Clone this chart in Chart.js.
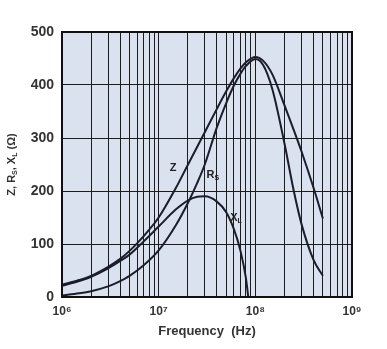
<!DOCTYPE html>
<html lang="en">
<head>
    <meta charset="UTF-8">
    <title>Impedance vs Frequency</title>
    <script src="https://cdn.jsdelivr.net/npm/chart.js"></script>
    <style>
        body {
            margin: 0;
            background: #ffffff;
        }
        #chart {
            display: block;
        }
    </style>
</head>
<body>
    <canvas id="chart" width="387" height="349"></canvas>

    <script>
        // Frequency points (Hz) shared by Z and Rs
        const freqs = [1e6, 1.5e6, 2e6, 3e6, 4e6, 5e6, 7e6, 1e7, 1.5e7, 2e7, 2.5e7, 3e7, 4e7, 5e7,
                       6e7, 7e7, 8e7, 1e8, 1.2e8, 1.5e8, 2e8, 2.5e8, 3e8, 4e8, 5e8];
        const zValues  = [23, 32, 40, 57, 72, 87, 115, 150, 205, 249, 283, 311, 355, 388,
                          413, 431, 443, 453, 446, 420, 362, 315, 275, 206, 148];
        const rsValues = [3, 7, 11, 20, 30, 40, 60, 88, 135, 177, 215, 250, 320, 366,
                          399, 421, 436, 449, 438, 392, 290, 200, 138, 70, 40];

        // Reactance goes through zero just under 100 MHz
        const xlFreqs  = [1e6, 1.5e6, 2e6, 3e6, 4e6, 5e6, 7e6, 1e7, 1.5e7, 2e7, 2.5e7, 3e7, 4e7, 5e7,
                          6e7, 7e7, 8e7, 8.45e7];
        const xlValues = [21, 30, 38, 54, 68, 80, 105, 133, 165, 182, 189, 190, 180, 160,
                          128, 88, 35, 0];

        // grid lines: 1..9 per decade, labels on the decades
        const gridFreqs = [];
        for (let e = 6; e < 9; e++) {
            for (let m = 1; m < 10; m++) gridFreqs.push(m * Math.pow(10, e));
        }
        gridFreqs.push(1e9);
        const decadeLabels = { 6: '10\u2076', 7: '10\u2077', 8: '10\u2078', 9: '10\u2079' };
        const yTicks = [0, 100, 200, 300, 400, 500];

        const lineColor = '#1b1d2b';
        const textColor = '#333333';
        const fontFamily = '"Liberation Sans", Arial, sans-serif';

        function toPoints(xs, ys) {
            return xs.map((x, i) => ({ x: x, y: ys[i] }));
        }

        // text with subscript parts: [text, isSub]
        function drawSubText(ctx, parts, x, y, size) {
            const subSize = Math.round(size * 0.65);
            let total = 0;
            parts.forEach(p => {
                ctx.font = `bold ${p[1] ? subSize : size}px ${fontFamily}`;
                total += ctx.measureText(p[0]).width;
            });
            let cx = x - total / 2;
            parts.forEach(p => {
                ctx.font = `bold ${p[1] ? subSize : size}px ${fontFamily}`;
                ctx.fillText(p[0], cx, p[1] ? y + size * 0.3 : y);
                cx += ctx.measureText(p[0]).width;
            });
        }

        const curveLabels = [
            { f: 1.41e7, v: 243, parts: [['Z', false]] },
            { f: 3.64e7, v: 230, parts: [['R', false], ['S', true]] },
            { f: 6.3e7, v: 149, parts: [['X', false], ['L', true]] }
        ];

        const plotDecor = {
            id: 'plotDecor',
            beforeDraw(chart) {
                const { ctx, chartArea: a } = chart;
                ctx.save();
                ctx.fillStyle = '#dbe2ef';
                ctx.fillRect(a.left, a.top, a.right - a.left, a.bottom - a.top);
                ctx.restore();
            },
            afterDraw(chart) {
                const { ctx, chartArea: a, scales } = chart;
                ctx.save();
                ctx.strokeStyle = '#111111';
                ctx.lineWidth = 2;
                ctx.strokeRect(a.left, a.top, a.right - a.left, a.bottom - a.top);

                ctx.fillStyle = '#222222';
                ctx.textBaseline = 'middle';
                curveLabels.forEach(l => {
                    drawSubText(ctx, l.parts, scales.x.getPixelForValue(l.f), scales.y.getPixelForValue(l.v), 11);
                });

                // y axis title
                ctx.translate(12, (a.top + a.bottom) / 2);
                ctx.rotate(-Math.PI / 2);
                ctx.fillStyle = textColor;
                drawSubText(ctx, [['Z, R', false], ['S', true], [', X', false], ['L', true], [' (\u03A9)', false]], 0, 0, 11);
                ctx.restore();
            }
        };

        const seriesStyle = {
            borderColor: lineColor,
            borderWidth: 2,
            pointRadius: 0,
            fill: false,
            cubicInterpolationMode: 'monotone'
        };

        new Chart(document.getElementById('chart'), {
            type: 'line',
            data: {
                datasets: [
                    Object.assign({ label: 'Z', data: toPoints(freqs, zValues) }, seriesStyle),
                    Object.assign({ label: 'Rs', data: toPoints(freqs, rsValues) }, seriesStyle),
                    Object.assign({ label: 'XL', data: toPoints(xlFreqs, xlValues) }, seriesStyle)
                ]
            },
            options: {
                responsive: false,
                animation: false,
                layout: { padding: { left: 0, top: 32, right: 35, bottom: 0 } },
                plugins: {
                    legend: { display: false },
                    tooltip: { enabled: false }
                },
                scales: {
                    x: {
                        type: 'logarithmic',
                        min: 1e6,
                        max: 1e9,
                        afterBuildTicks: scale => {
                            scale.ticks = gridFreqs.map(v => ({ value: v }));
                        },
                        afterFit: scale => { scale.height = 52; },
                        grid: { color: '#1c1c1c', lineWidth: 1, drawTicks: false },
                        border: { display: false },
                        ticks: {
                            autoSkip: false,
                            maxRotation: 0,
                            padding: 7,
                            color: textColor,
                            font: { family: fontFamily, size: 12, weight: 'bold' },
                            callback: value => {
                                const e = Math.log10(value);
                                return Number.isInteger(Math.round(e * 1e6) / 1e6) ? decadeLabels[Math.round(e)] : '';
                            }
                        },
                        title: {
                            display: true,
                            text: 'Frequency  (Hz)',
                            color: textColor,
                            font: { family: fontFamily, size: 13, weight: 'bold' },
                            padding: { top: 0, bottom: 10 }
                        }
                    },
                    y: {
                        min: 0,
                        max: 500,
                        afterBuildTicks: scale => {
                            scale.ticks = yTicks.map(v => ({ value: v }));
                        },
                        afterFit: scale => { scale.width = 62; },
                        grid: { color: '#1c1c1c', lineWidth: 1, drawTicks: false },
                        border: { display: false },
                        ticks: {
                            padding: 8,
                            color: textColor,
                            font: { family: fontFamily, size: 14, weight: 'bold' }
                        }
                    }
                }
            },
            plugins: [plotDecor]
        });
    </script>
</body>
</html>
